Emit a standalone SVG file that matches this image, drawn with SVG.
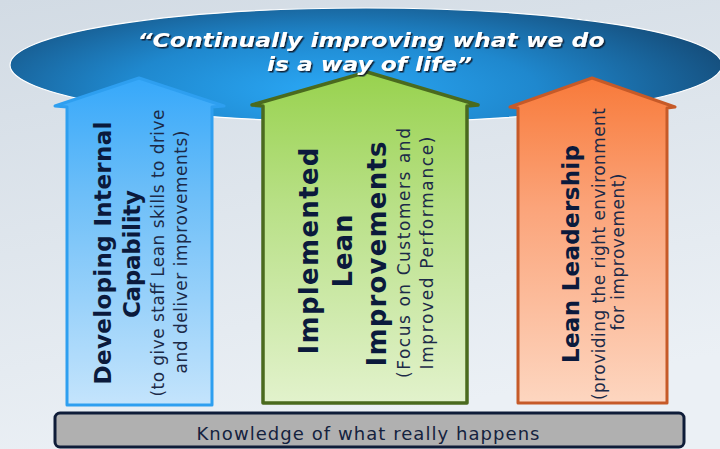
<svg xmlns="http://www.w3.org/2000/svg" width="720" height="449" viewBox="0 0 720 449">
  <defs>
    <linearGradient id="bg" x1="0" y1="0" x2="0.3" y2="1">
      <stop offset="0" stop-color="#d2dbe4"/>
      <stop offset="1" stop-color="#ebf0f5"/>
    </linearGradient>
    <radialGradient id="cloud" cx="0.45" cy="0.72" r="0.58" gradientTransform="translate(0.45 0.72) scale(1 1.6) translate(-0.45 -0.72)">
      <stop offset="0" stop-color="#2aa8f6"/>
      <stop offset="0.5" stop-color="#1f88ce"/>
      <stop offset="1" stop-color="#154e7c"/>
    </radialGradient>
    <linearGradient id="gBlue" x1="0" y1="0" x2="0" y2="1">
      <stop offset="0" stop-color="#36a8fa"/>
      <stop offset="0.35" stop-color="#6cbef8"/>
      <stop offset="1" stop-color="#c4e4fc"/>
    </linearGradient>
    <linearGradient id="gGreen" x1="0" y1="0" x2="0" y2="1">
      <stop offset="0" stop-color="#98d24e"/>
      <stop offset="0.4" stop-color="#b8e086"/>
      <stop offset="1" stop-color="#e2f2cc"/>
    </linearGradient>
    <linearGradient id="gOrange" x1="0" y1="0" x2="0" y2="1">
      <stop offset="0" stop-color="#f87a3a"/>
      <stop offset="0.4" stop-color="#fba47a"/>
      <stop offset="1" stop-color="#fdd6c0"/>
    </linearGradient>
    <filter id="shadow" x="-5%" y="-20%" width="110%" height="150%">
      <feDropShadow dx="1.5" dy="1.5" stdDeviation="0.4" flood-color="#08182a" flood-opacity="0.9"/>
    </filter>
    <style>
      .title { font-family: "DejaVu Sans", Verdana, sans-serif; font-weight: bold; font-style: italic; font-size: 20px; text-anchor: middle; fill: #ffffff; }
      .head { font-family: "DejaVu Sans", Verdana, sans-serif; font-weight: bold; font-size: 23px; fill: #0b1a3c; text-anchor: middle; }
      .headL { font-size: 26px; }
      .sub { font-family: "DejaVu Sans", Verdana, sans-serif; font-size: 17px; fill: #1c2a48; text-anchor: middle; }
      .base { font-family: "DejaVu Sans", Verdana, sans-serif; font-size: 18px; fill: #14223e; text-anchor: middle; }
    </style>
  </defs>

  <!-- background -->
  <rect x="0" y="0" width="720" height="449" fill="url(#bg)"/>

  <!-- vision cloud (shape sits behind the pillars) -->
  <g id="vision">
    <ellipse cx="366" cy="65" rx="356" ry="57" fill="url(#cloud)" stroke="#ffffff" stroke-width="1.2"/>
  </g>

  <!-- pillar 1: capability -->
  <g id="capability">
    <polygon points="67,405 67,107 55,106 139,78 224,106 212,107 212,405" fill="url(#gBlue)" stroke="#2e9ff0" stroke-width="3" stroke-linejoin="round"/>
    <text class="head" transform="translate(111,253) rotate(-90)" textLength="263">Developing Internal</text>
    <text class="head" transform="translate(140,254) rotate(-90)" textLength="128">Capability</text>
    <text class="sub" transform="translate(164,253) rotate(-90)" textLength="287">(to give staff Lean skills to drive</text>
    <text class="sub" transform="translate(187,252) rotate(-90)" textLength="243">and deliver improvements)</text>
  </g>

  <!-- pillar 2: improvements -->
  <g id="improvements">
    <polygon points="263,403 263,106 252,105 367,72 478,105 467,106 467,403" fill="url(#gGreen)" stroke="#4a6a1e" stroke-width="3.5" stroke-linejoin="round"/>
    <text class="head headL" transform="translate(318,251) rotate(-90)" textLength="207">Implemented</text>
    <text class="head headL" transform="translate(352,251) rotate(-90)" textLength="73">Lean</text>
    <text class="head headL" transform="translate(386,254) rotate(-90)" textLength="225">Improvements</text>
    <text class="sub" transform="translate(410,253) rotate(-90)" textLength="250">(Focus on Customers and</text>
    <text class="sub" transform="translate(433,253) rotate(-90)" textLength="233">Improved Performance)</text>
  </g>

  <!-- pillar 3: leadership -->
  <g id="leadership">
    <polygon points="518,403 518,108 510,107 592,78 675,107 667,108 667,403" fill="url(#gOrange)" stroke="#c65a28" stroke-width="3" stroke-linejoin="round"/>
    <text class="head" transform="translate(579,254) rotate(-90)" textLength="218">Lean Leadership</text>
    <text class="sub" transform="translate(605,254) rotate(-90)" textLength="292">(providing the right environment</text>
    <text class="sub" transform="translate(624,252) rotate(-90)" textLength="157">for improvement)</text>
  </g>

  <!-- vision statement, drawn over the pillar tops -->
  <g id="vision-text" class="title" filter="url(#shadow)">
    <text x="371" y="47" textLength="467" lengthAdjust="spacingAndGlyphs">“Continually improving what we do</text>
    <text x="369.5" y="70.5" textLength="205" lengthAdjust="spacingAndGlyphs">is a way of life”</text>
  </g>

  <!-- foundation bar -->
  <g id="knowledge">
    <rect x="55" y="413" width="629" height="34" rx="5" fill="#b0b0b0" stroke="#0e1c38" stroke-width="3"/>
    <text class="base" x="368" y="440" textLength="343">Knowledge of what really happens</text>
  </g>
</svg>
